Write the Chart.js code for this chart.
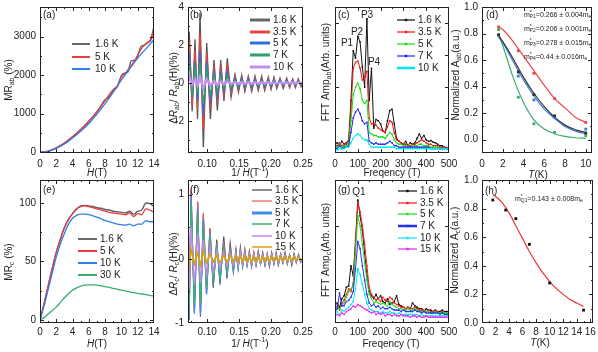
<!DOCTYPE html>
<html lang="en">
<head>
<meta charset="UTF-8">
<title>MR and quantum oscillations</title>
<script src="https://cdn.jsdelivr.net/npm/chart.js"></script>
<style>
  body { margin: 0; background: #fff; }
  #wrap { position: relative; width: 598px; height: 352px; overflow: hidden; }
  canvas { position: absolute; }
</style>
</head>
<body>
<div id="wrap"></div>
<script>
// ---- (a) MR_ab vs H ----
const a16H = [0,1,2,3,4,5,6,7,8,8.5,9,9.5,10,10.5,10.8,11.2,11.6,12,12.4,12.8,13.2,13.6,14];
const a16 = [0,30,115,240,400,590,805,1050,1360,1440,1600,1700,1990,2060,2080,2370,2380,2500,2740,2780,2850,2900,3270];
const a5H = [0,1,2,3,4,5,6,7,8,9,9.5,10,10.5,11,11.5,12,12.5,13,13.5,14];
const a5 = [0,30,115,240,400,590,805,1050,1340,1630,1720,1960,2050,2200,2330,2520,2700,2800,2900,3200];
const a10H = [0,1,2,3,4,5,6,7,8,9,10,11,12,13,14];
const a10 = [0,25,100,215,370,545,745,990,1260,1560,1880,2160,2440,2680,2920];

// ---- (b) dR_ab/R_ab vs 1/H (extrema) ----
const bX = [0.070,0.072,0.0765,0.081,0.0849,0.0888,0.094,0.0993,0.105,0.1107,0.116,0.1212,0.1263,0.1315,0.1375,0.1436,0.149,0.154,0.159,0.1644,0.1697,0.1749,0.180,0.1853,0.190,0.1957,0.200,0.2046,0.209,0.214,0.219,0.2245,0.229,0.2339,0.238,0.2426,0.247,0.250];
const b16 = [0.8,2.7,-1.5,2.3,-1.9,3.7,-3.4,2.1,-1.9,1.2,-1.45,1.2,-0.95,1.3,-0.75,0.45,-0.5,0.4,-0.45,0.35,-0.45,0.35,-0.4,0.35,-0.4,0.3,-0.35,0.3,-0.3,0.25,-0.3,0.25,-0.25,0.2,-0.25,0.2,-0.2,0.0];
const b35 = [0.5,2.2,-1.2,1.7,-1.4,2.6,-2.5,1.6,-1.4,0.9,-1.05,0.85,-0.7,0.9,-0.55,0.35,-0.38,0.3,-0.35,0.28,-0.33,0.27,-0.3,0.26,-0.3,0.23,-0.27,0.22,-0.24,0.2,-0.22,0.18,-0.2,0.16,-0.18,0.15,-0.16,0.0];
const b5 = [0.3,1.6,-0.8,1.1,-0.95,1.7,-1.7,1.1,-0.95,0.6,-0.7,0.55,-0.45,0.6,-0.38,0.25,-0.27,0.22,-0.25,0.2,-0.24,0.2,-0.22,0.18,-0.21,0.17,-0.19,0.16,-0.17,0.15,-0.16,0.13,-0.14,0.12,-0.13,0.11,-0.12,0.0];
const b7 = [0.3,1.1,-0.5,0.75,-0.6,1.1,-1.1,0.7,-0.6,0.4,-0.45,0.35,-0.3,0.35,-0.25,0.15,-0.17,0.13,-0.15,0.12,-0.14,0.12,-0.13,0.11,-0.12,0.1,-0.11,0.1,-0.1,0.09,-0.1,0.08,-0.09,0.07,-0.08,0.07,-0.07,0.0];
const b10 = [0.1,0.35,-0.1,0.2,-0.15,0.3,-0.3,0.2,-0.15,0.1,-0.12,0.08,-0.08,0.08,-0.06,0.04,-0.05,0.04,-0.04,0.03,-0.04,0.03,-0.03,0.03,-0.03,0.03,-0.03,0.02,-0.03,0.02,-0.02,0.02,-0.02,0.02,-0.02,0.02,-0.02,0.0];

// ---- (c) FFT ab ----
const cF = [0,10,20,30,40,50,60,70,80,90,100,110,120,130,140,150,160,170,180,190,200,210,220,230,240,250,260,270,280,290,300,310,320,330,340,350,360,370,380,390,400,410,420,430,440,450,460,470,480,490,500];
const c16 = [6,7,5,8,6,7,9,36,70,65,80,76,59,45,92,36,58,17,23,22,20,15,14,22,29,30,20,10,8,7,6,8,5,7,6,7,10,13,10,12,9,8,8.5,7.5,7,6,5,5,4,3.5,3.5];
const c35 = [6,5,7,5,6,6,8,30,58,62,63,58,50,52,56,24,20,20,19,17,16,15,14,18,22,21,14,9,8,7,6,6,5,5,6,6,7,8,9,8,7,6,6,5,5,5,4,4,4,3,3];
const c5 = [5,4,6,4,5,5,6,22,40,45,48,44,36,34,36,14,13,12,12,11,11,11,10,12,14,13,9,7,6,6,5,5,5,4,5,5,5,6,6,5,5,5,4,4,4,4,3,3,3,3,3];
const c7 = [4,3,5,3,4,4,5,14,24,28,30,27,22,20,21,8,7,6,7,6,6,6,6,7,8,7,5,5,4,4,4,4,4,4,4,4,4,4,4,4,4,4,3,3,3,3,3,3,3,3,3];
const c10 = [3,2,3,3,3,4,4,7,10,12,13,12,10,9,9,6,4,4,4,4,4,4,4,4,4,4,4,3,3,3,3,3,3,3,3,3,3,3,3,3,3,3,3,3,3,3,3,3,3,3,3];

// ---- (d) normalized A_ab vs T ----
const dT = [1.6,3.5,5,7,10];
const dRed = [0.85,0.67,0.50,0.31,0.13];
const dBlack = [0.79,0.51,0.34,0.18,0.05];
const dBlue = [0.79,0.48,0.30,0.17,0.08];
const dGreen = [0.83,0.32,0.12,0.055,0.03];
const dFitT = [1.6,2,3,4,5,6,7,8,9,10];
const dRedFit = [0.85,0.83,0.74,0.63,0.52,0.41,0.31,0.24,0.17,0.13];
const dBlackFit = [0.78,0.74,0.61,0.47,0.35,0.25,0.17,0.11,0.075,0.055];
const dBlueFit = [0.77,0.73,0.59,0.45,0.33,0.23,0.16,0.10,0.065,0.045];
const dGreenFit = [0.80,0.71,0.47,0.28,0.15,0.08,0.045,0.025,0.015,0.01];

// ---- (e) MR_c vs H ----
const eH = [0,0.5,1,1.5,2,2.5,3,3.5,4,4.5,5,5.5,6,6.5,7,7.5,8,8.5,9,9.5,10,10.5,11,11.5,12,12.5,13,13.5,14];
const e16 = [0,14,29,44,58,69,79,86,91,95,97.5,98,97.5,97,96,95.5,94.5,94,93,92.5,92,91.5,93,90.5,93,94,100,99.5,97];
const e5 = [0,14,29,44,58,69,79,86,91,95,97,97.5,97,96,95,94,93,92,91.5,91,90.5,90,91.5,88.5,91,90,95,94,92];
const e10 = [0,12,26,40,54,65,74,82,87,89.5,90.5,90.5,90,89,88,86.5,85,84,83,82,81.5,81,82,80.5,82,82,85,84,84];
const e30 = [0,2,5,8,11,15,19,22.5,25.5,27.5,29,29.8,30,30,29.8,29.2,28.5,27.8,27,26.2,25.5,24.8,24,23.3,22.7,22.2,21.6,21,20.5];

// ---- (f) dR_c/R_c vs 1/H ----
const fX = [0.070,0.0718,0.0748,0.0800,0.0852,0.0895,0.0940,0.0990,0.1044,0.1095,0.1150,0.1200,0.1260,0.1310,0.1360,0.1410,0.1450,0.1485,0.152,0.1555,0.159,0.1625,0.166,0.1695,0.173,0.1765,0.180,0.1835,0.187,0.1905,0.194,0.1975,0.201,0.2045,0.208,0.2115,0.215,0.2185,0.222,0.2255,0.229,0.2325,0.236,0.2395,0.243,0.2465,0.250];
const f16 = [0.2,-0.95,1.05,-0.85,0.88,-0.9,0.7,-0.55,0.47,-0.45,0.3,-0.4,0.35,-0.3,0.25,-0.2,0.15,-0.15,0.18,-0.12,0.15,-0.1,0.12,-0.12,0.1,-0.1,0.12,-0.08,0.1,-0.1,0.08,-0.12,0.1,-0.08,0.1,-0.1,0.08,-0.06,0.1,-0.08,0.06,-0.1,0.08,-0.06,0.07,-0.05,0.02];
const f35 = [0.2,-0.9,1.1,-0.8,0.9,-0.85,0.72,-0.5,0.48,-0.4,0.25,-0.3,0.28,-0.25,0.2,-0.18,0.12,-0.12,0.15,-0.1,0.12,-0.1,0.1,-0.12,0.1,-0.08,0.1,-0.08,0.08,-0.1,0.08,-0.1,0.08,-0.07,0.08,-0.08,0.07,-0.06,0.08,-0.07,0.06,-0.08,0.07,-0.05,0.06,-0.05,0.02];
const f5 = [0.1,-0.95,1.0,-0.85,0.8,-0.88,0.62,-0.55,0.4,-0.42,0.22,-0.33,0.2,-0.25,0.15,-0.2,0.1,-0.15,0.12,-0.12,0.1,-0.1,0.08,-0.1,0.08,-0.1,0.08,-0.08,0.07,-0.08,0.06,-0.09,0.07,-0.07,0.06,-0.08,0.06,-0.06,0.06,-0.06,0.05,-0.07,0.06,-0.05,0.05,-0.05,0.0];
const f7 = [0.1,-0.75,0.85,-0.7,0.7,-0.72,0.5,-0.45,0.33,-0.35,0.18,-0.28,0.16,-0.2,0.12,-0.15,0.1,-0.12,0.1,-0.1,0.08,-0.09,0.07,-0.09,0.07,-0.08,0.06,-0.08,0.06,-0.07,0.06,-0.08,0.06,-0.06,0.05,-0.07,0.05,-0.05,0.05,-0.06,0.05,-0.06,0.05,-0.05,0.04,-0.04,0.0];
const f10 = [0.05,-0.45,0.5,-0.4,0.4,-0.38,0.3,-0.25,0.2,-0.2,0.12,-0.15,0.1,-0.12,0.1,-0.1,0.08,-0.1,0.1,-0.08,0.09,-0.08,0.07,-0.08,0.07,-0.07,0.06,-0.07,0.06,-0.06,0.06,-0.07,0.06,-0.05,0.05,-0.06,0.05,-0.05,0.05,-0.05,0.04,-0.05,0.04,-0.04,0.04,-0.04,0.0];
const f15 = [0.05,-0.1,0.15,-0.08,0.1,-0.1,0.12,-0.06,0.08,-0.05,0.06,-0.06,0.05,-0.05,0.06,-0.04,0.05,-0.05,0.04,-0.04,0.05,-0.04,0.04,-0.05,0.04,-0.04,0.03,-0.04,0.04,-0.03,0.04,-0.04,0.03,-0.03,0.04,-0.03,0.03,-0.03,0.03,-0.03,0.03,-0.03,0.03,-0.02,0.03,-0.02,0.0];

// ---- (g) FFT c ----
const g16 = [12,14,11,17,19,25,26,40,33,58,86,75,65,49,33,22,19,17,20,17,19,15,14,17,13,14,15,19,13,12,11,10,11,10,14,12,11,10,10,8,10,9,9,8,9,8,8,9,8,8,8];
const g35 = [10,12,9,14,16,20,24,22,28,55,84,78,68,55,40,25,20,18,16,17,15,18,16,15,18,17,14,13,12,11,11,10,11,10,10,11,10,9,9,9,8,9,8,8,8,8,7,8,7,7,7];
const g5 = [9,11,10,12,14,18,22,24,26,50,75,68,55,42,30,20,17,14,15,14,13,14,13,12,15,13,12,11,10,10,9,9,10,9,9,10,9,8,8,8,8,8,7,7,8,7,7,7,7,7,7];
const g7 = [8,10,21,12,12,15,16,18,22,38,57,52,40,30,20,14,12,13,11,12,10,11,10,10,11,10,9,9,9,8,9,8,8,8,8,9,8,8,7,8,7,7,7,7,7,7,6,7,6,6,6];
const g10 = [7,8,6,9,8,10,11,13,15,24,38,34,27,20,14,10,9,8,8,8,7,8,7,7,8,7,7,6,7,6,6,6,6,6,6,6,6,5,6,5,5,5,5,5,5,5,5,5,5,5,5];
const g15 = [5,6,5,7,6,8,9,10,12,11,13,12,11,10,9,8,7,8,6,7,6,7,5,6,6,5,6,5,5,6,5,5,5,4,5,5,4,5,4,4,5,4,4,4,4,4,4,4,4,4,4];

// ---- (h) normalized A_c vs T ----
const hT = [1.6,3.5,5,7,10,15];
const hA = [0.86,0.79,0.73,0.55,0.28,0.09];
const hFitT = [1.6,2,3,4,5,6,7,8,9,10,11,12,13,14,15];
const hFit = [0.90,0.885,0.84,0.77,0.68,0.59,0.50,0.42,0.35,0.29,0.24,0.20,0.165,0.14,0.115];

const FF = '"Liberation Sans Narrow", "Liberation Sans", Arial, sans-serif';
const INK = '#222';
const wrap = document.getElementById('wrap');

function pts(xs, ys) { return xs.map((x, i) => ({ x: x, y: ys[i] })); }
function line(xs, ys, color, w, extra) {
  return Object.assign({ data: pts(xs, ys), borderColor: color, backgroundColor: color,
    borderWidth: w, pointRadius: 0, fill: false, tension: 0 }, extra || {});
}
const smooth = { cubicInterpolationMode: 'monotone' };
const dots = { pointRadius: 1.1, pointStyle: 'rect', pointBorderWidth: 0 };
function marks(xs, ys, color, r) {
  return { data: pts(xs, ys), showLine: false, borderColor: color, backgroundColor: color,
    pointRadius: r, pointStyle: 'rect', pointBorderWidth: 0 };
}

function fontFor(kind, size) {
  const s = (kind === 'b' || kind === 'p') ? size * 0.7 : size;
  return (kind === 'i' ? 'italic ' : '') + s + 'px ' + FF;
}
// parts: [text, kind, advance?]  kind '' normal, 'i' italic, 'b' sub, 'p' sup
function rich(ctx, x, y, parts, size, align, rot) {
  ctx.save();
  ctx.translate(x, y);
  if (rot) ctx.rotate(-Math.PI / 2);
  ctx.textBaseline = 'middle';
  ctx.textAlign = 'left';
  ctx.fillStyle = INK;
  let w = 0;
  parts.forEach(p => { ctx.font = fontFor(p[1], size); if (p[2] !== 0) w += ctx.measureText(p[0]).width; });
  let cx = align === 'center' ? -w / 2 : 0;
  parts.forEach(p => {
    ctx.font = fontFor(p[1], size);
    const dy = p[1] === 'b' ? size * 0.3 : p[1] === 'p' ? -size * 0.35 : 0;
    ctx.fillText(p[0], cx, dy);
    if (p[2] !== 0) cx += ctx.measureText(p[0]).width;
  });
  ctx.restore();
}
function legend(ctx, x1, x2, tx, ys, items, size, marker) {
  items.forEach((it, i) => {
    ctx.save();
    ctx.strokeStyle = it[1];
    ctx.lineWidth = it[2];
    ctx.beginPath();
    ctx.moveTo(x1, ys[i]);
    ctx.lineTo(x2, ys[i]);
    ctx.stroke();
    if (marker) {
      ctx.fillStyle = it[1];
      ctx.fillRect((x1 + x2) / 2 - 1.2, ys[i] - 1.2, 2.4, 2.4);
    }
    ctx.restore();
    rich(ctx, tx, ys[i], [[it[0], '']], size, 'left', false);
  });
}

function minorsOf(t, min, max) {
  if (t.length < 2) return [];
  const st = t[1] - t[0];
  const out = [t[0] - st / 2];
  t.forEach(v => out.push(v + st / 2));
  return out.filter(v => v > min && v < max);
}

const framePlugin = {
  id: 'frame',
  afterDatasetsDraw(chart) {
    const { ctx, chartArea: a, scales } = chart;
    const o = chart.options.plugins.frame;
    ctx.save();
    ctx.strokeStyle = INK;
    ctx.lineWidth = 1;
    ctx.strokeRect(a.left + 0.5, a.top + 0.5, a.right - a.left - 1, a.bottom - a.top - 1);
    ctx.beginPath();
    const xs = scales.x, ys = scales.y;
    const xt = o.xTicks, yt = o.yTicks;
    function xt_(v, len) {
      const px = Math.round(xs.getPixelForValue(v)) + 0.5;
      if (px < a.left || px > a.right) return;
      ctx.moveTo(px, a.bottom); ctx.lineTo(px, a.bottom - len);
      ctx.moveTo(px, a.top); ctx.lineTo(px, a.top + len);
    }
    function yt_(v, len) {
      const py = Math.round(ys.getPixelForValue(v)) + 0.5;
      if (py < a.top || py > a.bottom) return;
      ctx.moveTo(a.left, py); ctx.lineTo(a.left + len, py);
      ctx.moveTo(a.right, py); ctx.lineTo(a.right - len, py);
    }
    xt.forEach(v => xt_(v, 4));
    yt.forEach(v => yt_(v, 4));
    if (o.xMinor) minorsOf(xt, xs.min, xs.max).forEach(v => xt_(v, 2));
    if (o.yMinor) minorsOf(yt, ys.min, ys.max).forEach(v => yt_(v, 2));
    ctx.stroke();
    ctx.restore();
  }
};

function panel(p) {
  const PL = 46, PT = 10, PR = 10, PB = 40;
  const [L, T, R, B] = p.box;
  const c = document.createElement('canvas');
  c.width = (R - L) + PL + PR;
  c.height = (B - T) + PT + PB;
  const ox = L - PL, oy = T - PT;
  c.style.left = ox + 'px';
  c.style.top = oy + 'px';
  wrap.appendChild(c);
  const n = p.datasets.length;
  p.datasets.forEach((d, i) => { if (d.order === undefined) d.order = n - i; });
  const tickFont = { family: FF, size: 10 };
  new Chart(c, {
    type: 'line',
    data: { datasets: p.datasets },
    options: {
      responsive: false, animation: false, devicePixelRatio: 1,
      layout: { padding: { left: 0, top: PT, right: PR, bottom: 0 } },
      plugins: { legend: { display: false }, tooltip: { enabled: false },
        frame: { xTicks: p.x.ticks, yTicks: p.y.ticks, xMinor: p.x.minor, yMinor: p.y.minor } },
      scales: {
        x: {
          type: 'linear', min: p.x.min, max: p.x.max,
          grid: { display: false, drawTicks: false }, border: { display: false },
          ticks: { font: tickFont, color: INK, padding: p.x.pad, autoSkip: false, maxRotation: 0,
                   display: p.x.labels !== false, callback: p.x.fmt },
          afterBuildTicks: s => { s.ticks = p.x.ticks.map(v => ({ value: v })); },
          afterFit: s => { s.height = PB; s.paddingLeft = 0; s.paddingRight = 0; }
        },
        y: {
          type: 'linear', min: p.y.min, max: p.y.max,
          grid: { display: false, drawTicks: false }, border: { display: false },
          ticks: { font: tickFont, color: INK, padding: 4, autoSkip: false,
                   display: p.y.labels !== false, callback: p.y.fmt },
          afterBuildTicks: s => { s.ticks = p.y.ticks.map(v => ({ value: v })); },
          afterFit: s => { s.width = PL; s.paddingTop = 0; s.paddingBottom = 0; }
        }
      }
    },
    plugins: [framePlugin, {
      id: 'deco',
      afterDraw(chart) {
        const ctx = chart.ctx;
        ctx.save();
        ctx.translate(-ox, -oy);
        p.deco(ctx);
        ctx.restore();
      }
    }]
  });
}

const fInt = v => String(v);
const f1 = v => v.toFixed(1);
const f2 = v => v.toFixed(2);
const ticks2 = [0,2,4,6,8,10,12,14];
const titleH = [['H', 'i'], ['(T)', '']];
const titleInvH = [['1/ ', ''], ['H', 'i'], ['(T', ''], ['-1', 'p'], [')', '']];
const titleF = [['Freqency (T)', '']];
const titleT = [['T', 'i'], ['(K)', '']];

// (a)
panel({
  box: [40, 7, 154, 153],
  x: { min: 0, max: 14, ticks: ticks2, fmt: fInt, pad: 5, minor: true },
  y: { min: -18, max: 3766, ticks: [0,1000,2000,3000], fmt: fInt, minor: true },
  datasets: [
    line(a16H, a16, '#5e5e5e', 1.4, smooth),
    line(a5H, a5, '#ee3b3b', 1.3, smooth),
    line(a10H, a10, '#2f7fe8', 1.3, smooth)
  ],
  deco: ctx => {
    rich(ctx, 43, 15, [['(a)', '']], 10, 'left');
    legend(ctx, 72, 90, 95, [44, 57, 69], [['1.6 K', '#6a6a6a', 2], ['5 K', '#ee3b3b', 2], ['10 K', '#2f7fe8', 2]], 10);
    rich(ctx, 97, 173, titleH, 10, 'center');
    rich(ctx, 9, 80, [['MR', ''], ['ab', 'b'], [' (%)', '']], 10, 'center', true);
  }
});

// (b)
panel({
  box: [188, 7, 303, 153],
  x: { min: 0.07, max: 0.25, ticks: [0.10,0.15,0.20,0.25], fmt: f2, pad: 5, minor: true },
  y: { min: -3.7, max: 4, ticks: [-2,0,2,4], fmt: fInt, minor: true },
  datasets: [
    line(bX, b16, '#555555', 1.3),
    line(bX, b35, '#e8443f', 1.3),
    line(bX, b5, '#2a6fdb', 1.3),
    line(bX, b7, '#2ea36a', 1.3),
    line(bX, b10, '#c48df0', 2.4)
  ],
  deco: ctx => {
    rich(ctx, 190, 15, [['(b)', '']], 10, 'left');
    legend(ctx, 250, 270, 273, [20, 32, 43, 55, 67],
      [['1.6 K', '#666', 3], ['3.5 K', '#e8443f', 3], ['5 K', '#2a6fdb', 3], ['7 K', '#2ea36a', 3], ['10 K', '#c48df0', 3]], 10);
    rich(ctx, 250, 173, titleInvH, 10, 'center');
    rich(ctx, 174, 88, [['\u0394', ''], ['R', 'i'], ['ab', 'b'], ['/ ', ''], ['R', 'i'], ['ab', 'b'], ['(H)(%)', '']], 10, 'center', true);
  }
});

// (c)
panel({
  box: [335, 7, 449, 153],
  x: { min: 0, max: 500, ticks: [0,100,200,300,400,500], fmt: fInt, pad: 5, minor: true },
  y: { min: 0, max: 100, ticks: [24,45,67,89], labels: false, minor: false },
  datasets: [
    line(cF, c16, '#111111', 1, dots),
    line(cF, c35, '#ee1111', 1, dots),
    line(cF, c5, '#11dd11', 1, dots),
    line(cF, c7, '#2222ee', 1, dots),
    line(cF, c10, '#00e6ee', 1, dots)
  ],
  deco: ctx => {
    rich(ctx, 338, 15, [['(c)', '']], 10, 'left');
    rich(ctx, 347, 43, [['P1', '']], 10, 'center');
    rich(ctx, 357, 32, [['P2', '']], 10, 'center');
    rich(ctx, 367, 15, [['P3', '']], 10, 'center');
    rich(ctx, 374, 62, [['P4', '']], 10, 'center');
    legend(ctx, 397, 415, 418, [20, 32, 44, 56, 68],
      [['1.6 K', '#111', 1.2], ['3.5 K', '#ee1111', 1.2], ['5 K', '#11dd11', 1.2], ['7 K', '#2222ee', 1.2], ['10 K', '#00e6ee', 2.5]], 10, true);
    rich(ctx, 392, 173, titleF, 10, 'center');
    rich(ctx, 326, 72, [['FFT Amp', ''], ['ab', 'b'], ['(Arb. units)', '']], 10, 'center', true);
  }
});

// (d)
panel({
  box: [482, 7, 592, 153],
  x: { min: 0, max: 10.6, ticks: [0,2,4,6,8,10], fmt: fInt, pad: 5, minor: true },
  y: { min: -0.1, max: 1.0, ticks: [0,0.2,0.4,0.6,0.8,1.0], fmt: f1, minor: true },
  datasets: [
    line(dFitT, dGreenFit, '#3aae6e', 1.2, smooth),
    line(dFitT, dBlueFit, '#3a7fe0', 1.2, smooth),
    line(dFitT, dBlackFit, '#333333', 1.2, smooth),
    line(dFitT, dRedFit, '#ee4444', 1.2, smooth),
    marks(dT, dGreen, '#3aae6e', 2),
    marks(dT, dBlue, '#3a7fe0', 2),
    marks(dT, dBlack, '#333333', 2),
    marks(dT, dRed, '#ee4444', 2)
  ],
  deco: ctx => {
    rich(ctx, 486, 15, [['(d)', '']], 10, 'left');
    const ms = [['P1', '=0.266 \u00b1 0.004m'], ['P2', '=0.206 \u00b1 0.001m'], ['P3', '=0.278 \u00b1 0.015m'], ['P4', '=0.44 \u00b1 0.016m']];
    [15, 29, 43, 57].forEach((y, i) => {
      rich(ctx, 524, y, [['m', ''], ['*', 'p', 0], [ms[i][0], 'b'], [ms[i][1], ''], ['e', 'b']], 7, 'left');
    });
    rich(ctx, 538, 175, titleT, 10, 'center');
    rich(ctx, 456, 75, [['Normalized A', ''], ['ab', 'b'], ['(a.u.)', '']], 10, 'center', true);
  }
});

// (e)
panel({
  box: [40, 180, 154, 323],
  x: { min: 0, max: 14, ticks: ticks2, fmt: fInt, pad: 3, minor: true },
  y: { min: -2.6, max: 119.7, ticks: [0,50,100], fmt: fInt, minor: true },
  datasets: [
    line(eH, e16, '#5e5e5e', 1.4, smooth),
    line(eH, e5, '#ee3b3b', 1.3, smooth),
    line(eH, e10, '#2f7fe8', 1.3, smooth),
    line(eH, e30, '#3aae6e', 1.3, smooth)
  ],
  deco: ctx => {
    rich(ctx, 43, 190, [['(e)', '']], 10, 'left');
    legend(ctx, 78, 97, 100, [239, 251, 263, 275],
      [['1.6 K', '#6a6a6a', 2], ['5 K', '#ee3b3b', 2], ['10 K', '#2f7fe8', 2], ['30 K', '#3aae6e', 2]], 10);
    rich(ctx, 97, 344, titleH, 10, 'center');
    rich(ctx, 9, 262, [['MR', ''], ['c', 'b'], [' (%)', '']], 10, 'center', true);
  }
});

// (f)
panel({
  box: [188, 180, 303, 323],
  x: { min: 0.07, max: 0.25, ticks: [0.10,0.15,0.20,0.25], fmt: f2, pad: 3, minor: true },
  y: { min: -1.0, max: 1.23, ticks: [-1,0,1], fmt: fInt, minor: true },
  datasets: [
    line(fX, f16, '#444444', 1.1),
    line(fX, f35, '#f05555', 1.1),
    line(fX, f5, '#3a8ee8', 1.2),
    line(fX, f7, '#3cb371', 1.1),
    line(fX, f10, '#c08af0', 1.3),
    line(fX, f15, '#d4a20c', 1.6)
  ],
  deco: ctx => {
    rich(ctx, 190, 190, [['(f)', '']], 10, 'left');
    legend(ctx, 252, 272, 275, [190, 201, 213, 224, 236, 247],
      [['1.6 K', '#444', 1.2], ['3.5 K', '#f05555', 1.2], ['5 K', '#3a8ee8', 3], ['7 K', '#3cb371', 1.5], ['10 K', '#c08af0', 1.5], ['15 K', '#d4a20c', 1.5]], 10);
    rich(ctx, 250, 344, titleInvH, 10, 'center');
    rich(ctx, 174, 264, [['\u0394', ''], ['R', 'i'], ['c', 'b'], ['/ ', ''], ['R', 'i'], ['c', 'b'], ['(H)(%)', '']], 10, 'center', true);
  }
});

// (g)
panel({
  box: [335, 180, 449, 323],
  x: { min: 0, max: 500, ticks: [0,100,200,300,400,500], fmt: fInt, pad: 3, minor: true },
  y: { min: 0, max: 100, ticks: [24,68], labels: false, minor: false },
  datasets: [
    line(cF, g16, '#111111', 1, dots),
    line(cF, g35, '#ff1a1a', 1, dots),
    line(cF, g5, '#22dd22', 1, dots),
    line(cF, g7, '#2233ee', 1, dots),
    line(cF, g10, '#00e8ff', 1, dots),
    line(cF, g15, '#ee22ee', 1, dots)
  ],
  deco: ctx => {
    rich(ctx, 338, 190, [['(g)', '']], 10, 'left');
    rich(ctx, 359, 192, [['Q1', '']], 10, 'center');
    legend(ctx, 398, 417, 420, [191, 203, 214, 226, 238, 249],
      [['1.6 K', '#111', 1.2], ['3.5 K', '#ff1a1a', 1.2], ['5 K', '#22dd22', 1.2], ['7 K', '#2233ee', 2.5], ['10 K', '#00e8ff', 1.2], ['15 K', '#ee22ee', 1.2]], 10, true);
    rich(ctx, 391, 344, titleF, 10, 'center');
    rich(ctx, 326, 250, [['FFT Amp', ''], ['c', 'b'], ['(Arb. units)', '']], 10, 'center', true);
  }
});

// (h)
panel({
  box: [482, 180, 593, 323],
  x: { min: 0, max: 16.4, ticks: [0,2,4,6,8,10,12,14,16], fmt: fInt, pad: 3, minor: true },
  y: { min: 0, max: 1.0, ticks: [0,0.2,0.4,0.6,0.8,1.0], fmt: f1, minor: true },
  datasets: [
    line(hFitT, hFit, '#ee3333', 1.2, smooth),
    marks(hT, hA, '#111111', 2)
  ],
  deco: ctx => {
    rich(ctx, 485, 191, [['(h)', '']], 10, 'left');
    rich(ctx, 515, 199, [['m', ''], ['*', 'p', 0], ['Q1', 'b'], ['=0.143 \u00b1 0.008m', ''], ['e', 'b']], 7, 'left');
    rich(ctx, 540, 343, titleT, 10, 'center');
    rich(ctx, 455, 250, [['Normalized A', ''], ['c', 'b'], ['(a.u.)', '']], 10, 'center', true);
  }
});
</script>
</body>
</html>
